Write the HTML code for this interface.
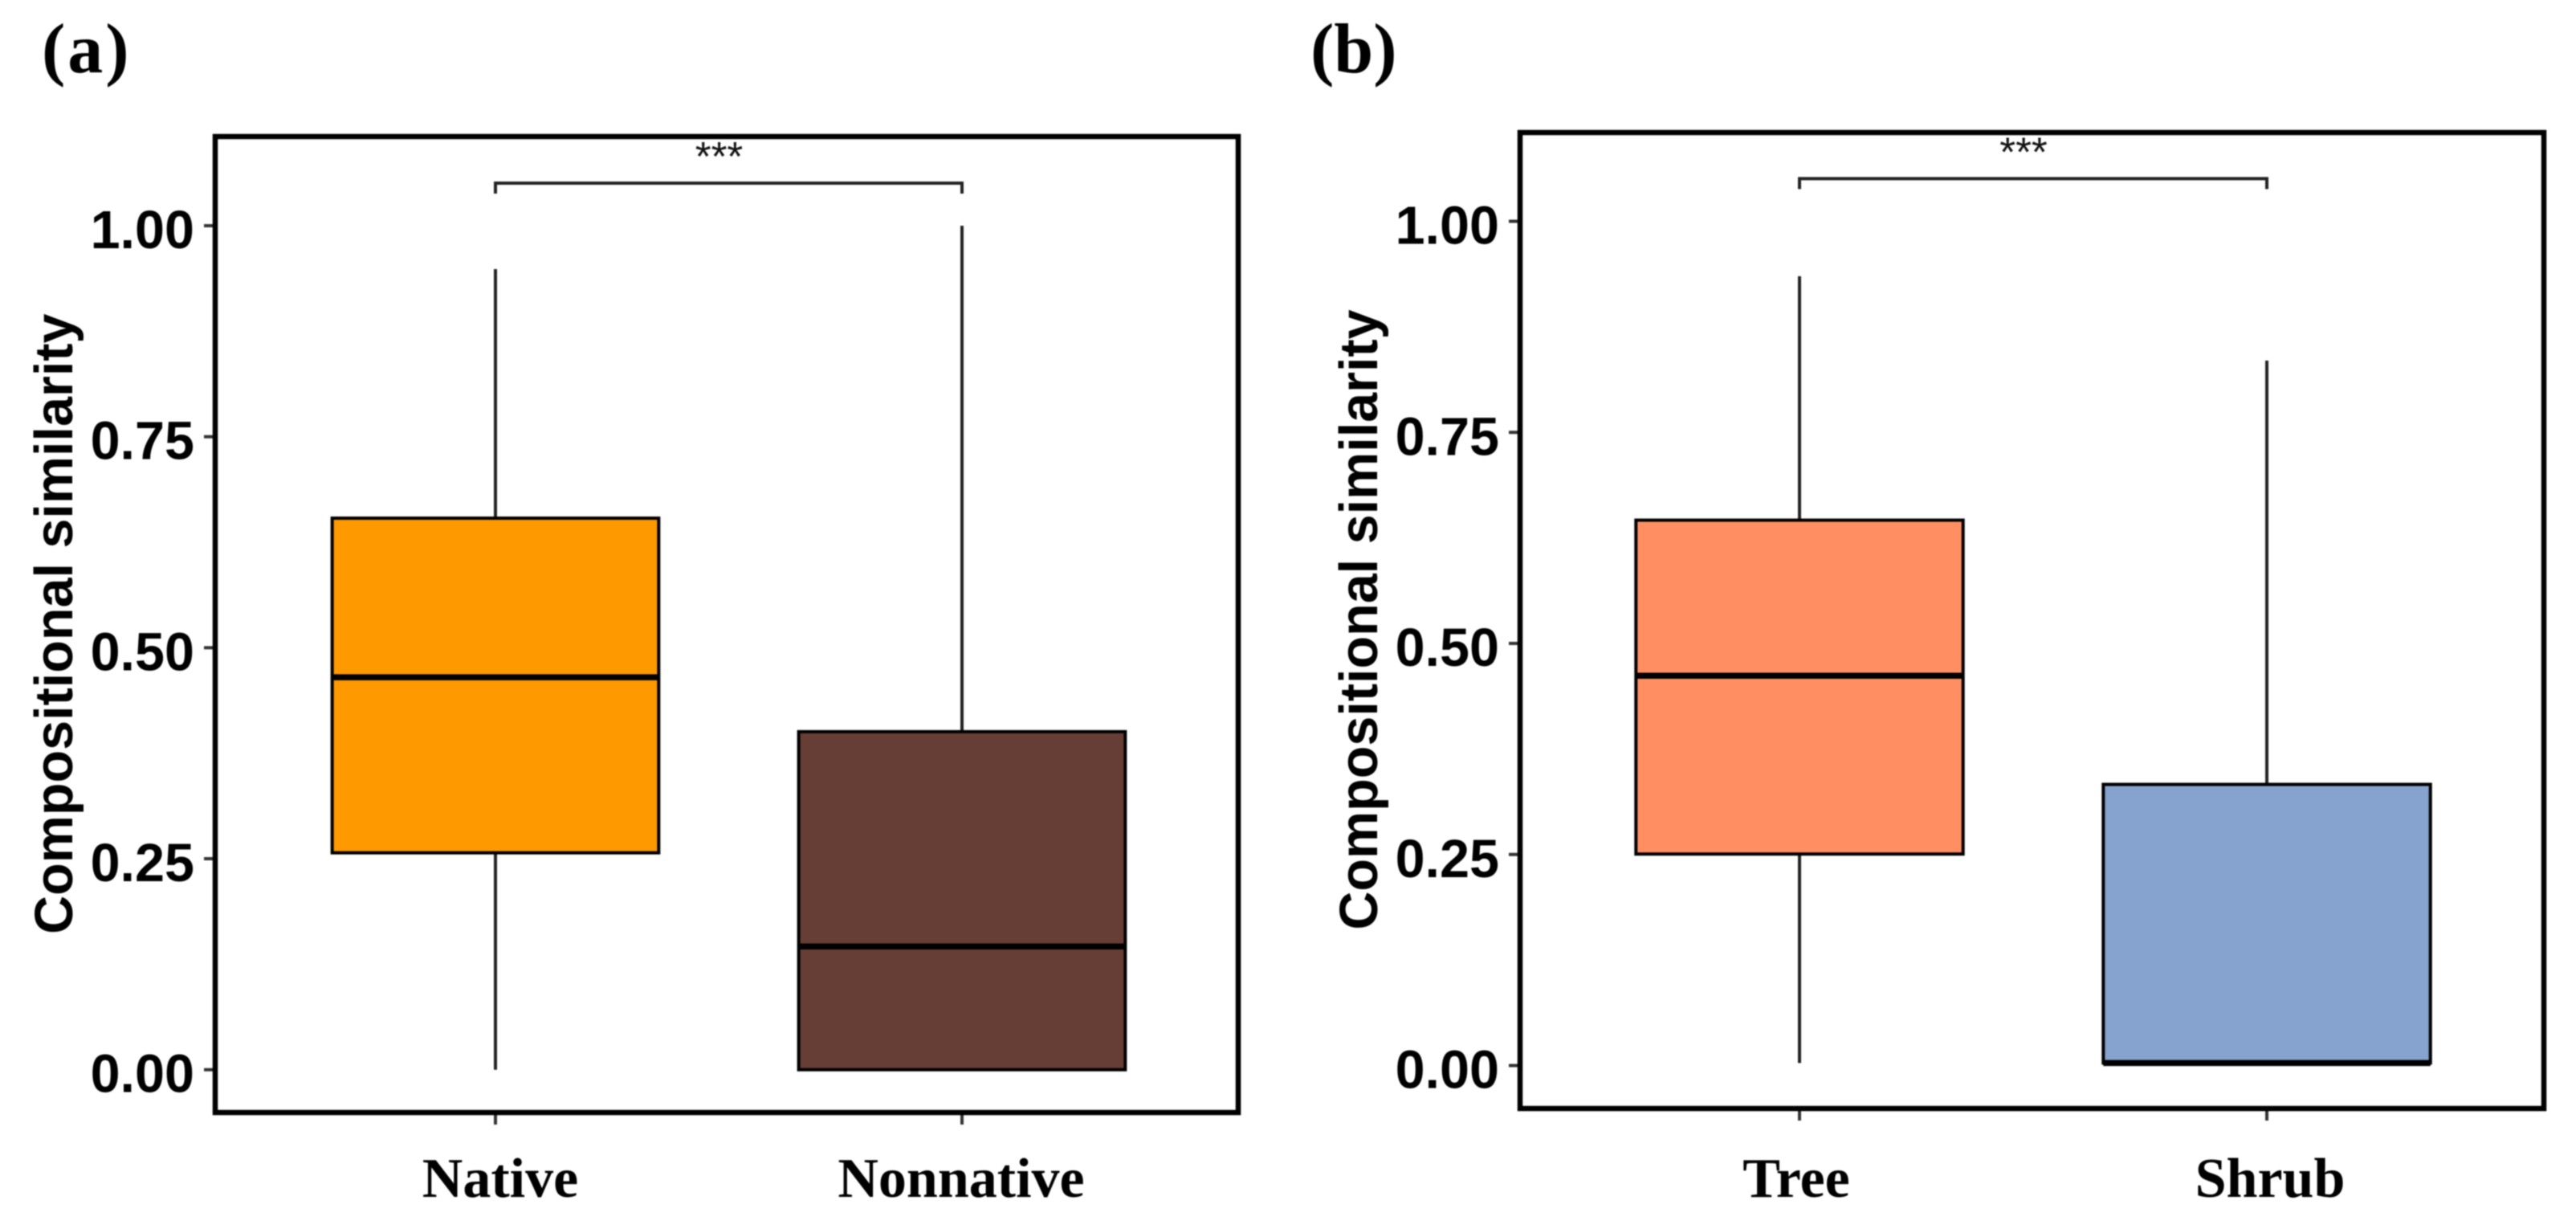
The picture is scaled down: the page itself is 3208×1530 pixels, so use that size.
<!DOCTYPE html>
<html lang="en">
<head>
<meta charset="utf-8">
<title>Compositional similarity boxplots</title>
<style>
  html, body { margin: 0; padding: 0; background: #fff; }
  body { width: 3208px; height: 1530px; overflow: hidden; }
  svg { display: block; filter: blur(0.7px); }
  .tick-label { font: bold 66.5px "Liberation Sans", sans-serif; fill: #000; text-anchor: end; }
  .axis-title { font: bold 66.5px "Liberation Sans", sans-serif; fill: #000; text-anchor: middle; }
  .cat-label { font: bold 70px "Liberation Serif", serif; fill: #000; text-anchor: middle; }
  .panel-tag { font: bold 88px "Liberation Serif", serif; fill: #000; }
  .stars { font: 51px "Liberation Sans", sans-serif; fill: #111; text-anchor: middle; }
</style>
</head>
<body>
<svg id="chart" xmlns="http://www.w3.org/2000/svg" width="3208" height="1530" viewBox="0 0 3208 1530">
  <rect x="0" y="0" width="3208" height="1530" fill="#ffffff"></rect>
</svg>
<script>
// Shared axis data
const tickValues = [0, 0.25, 0.5, 0.75, 1];
const tickLabels = ["0.00", "0.25", "0.50", "0.75", "1.00"];
const axisTitle = "Compositional similarity";

// Panel (a) data
const categoriesA = ["Native", "Nonnative"];
const whiskerLowA = [0.0, 0.0];
const q1A = [0.257, 0.0];
const medianA = [0.465, 0.146];
const q3A = [0.6535, 0.4005];
const whiskerHighA = [0.9486, 1.0];
const bracketA = [1.0505];

// Panel (b) data
const categoriesB = ["Tree", "Shrub"];
const whiskerLowB = [0.003, 0.003];
const q1B = [0.2505, 0.003];
const medianB = [0.4617, 0.003];
const q3B = [0.646, 0.333];
const whiskerHighB = [0.935, 0.835];
const bracketB = [1.0505];

const svg = document.getElementById('chart');
const NS = 'http://www.w3.org/2000/svg';

function make(tag, attrs, text) {
  const node = document.createElementNS(NS, tag);
  for (const k in attrs) node.setAttribute(k, attrs[k]);
  if (text !== undefined) node.textContent = text;
  svg.appendChild(node);
  return node;
}

function drawPanel(p) {
  const yScale = v => p.y0 + (p.y1 - p.y0) * v;
  const xScale = i => p.x0 + p.step * i;
  let el;

  el = make('text', { x: p.tagX, y: 90, class: 'panel-tag', 'letter-spacing': p.tagSpacing }, p.tag);
  
  

  // y ticks and labels
  tickValues.forEach((v, i) => {
    let t = make('line', { x1: p.left - 14, x2: p.left, y1: yScale(v), y2: yScale(v), stroke: '#333', 'stroke-width': 4 });
    
    
    let l = make('text', { x: p.left - 26, y: yScale(v) + 28, class: 'tick-label' }, tickLabels[i]);
    
    
  });

  // y title
  el = make('text', { class: 'axis-title', transform: 'translate(' + (p.left - 178) + ',' + (p.y0 - 555) + ') rotate(-90)' }, axisTitle);
  
  

  // boxes
  p.categories.forEach((c, i) => {
    const cx = xScale(i);
    const half = p.boxWidth * p.step / 2;

    let w = make('line', { x1: cx, x2: cx, y1: yScale(p.high[i]), y2: yScale(p.q3[i]), stroke: '#222', 'stroke-width': 4 });
    
    

    let w2 = make('line', { x1: cx, x2: cx, y1: yScale(p.q1[i]), y2: yScale(p.low[i]), stroke: '#222', 'stroke-width': 4 });
    
    

    let b = make('rect', { x: cx - half, y: yScale(p.q3[i]), width: half * 2, height: yScale(p.q1[i]) - yScale(p.q3[i]), fill: p.fills[i], stroke: '#000', 'stroke-width': 4 });
    
    

    let m = make('line', { x1: cx - half, x2: cx + half, y1: yScale(p.median[i]), y2: yScale(p.median[i]), stroke: '#000', 'stroke-width': 7.5 });
    
    

    let xt = make('line', { x1: cx, x2: cx, y1: p.bottom, y2: p.bottom + 15, stroke: '#333', 'stroke-width': 4 });
    
    

    let xl = make('text', { x: cx + p.labelShift[i], y: 1490, class: 'cat-label' }, c);
    
    
  });

  // significance bracket
  const by = yScale(p.bracket[0]);
  el = make('path', { d: 'M' + xScale(0) + ' ' + (by + 13) + 'V' + by + 'H' + xScale(1) + 'V' + (by + 13), fill: 'none', stroke: '#222', 'stroke-width': 4 });
  
  

  el = make('text', { x: (xScale(0) + xScale(1)) / 2 - 12, y: by - 16, class: 'stars' }, '***');
  
  

  // frame
  el = make('rect', { x: p.left, y: p.top, width: p.right - p.left, height: p.bottom - p.top, fill: 'none', stroke: '#000', 'stroke-width': 6.5 });
  
  
}

drawPanel({
  tag: '(a)', tagX: 52, tagSpacing: 3,
  left: 268, right: 1542, top: 170, bottom: 1385,
  y0: 1331.7, y1: 281, x0: 617, step: 581, boxWidth: 0.7,
  categories: categoriesA, low: whiskerLowA, q1: q1A, median: medianA, q3: q3A, high: whiskerHighA,
  bracket: bracketA,
  fills: ['#FE9900', '#673E36'],
  labelShift: [6, -1]
});

drawPanel({
  tag: '(b)', tagX: 1632, tagSpacing: 0,
  left: 1893, right: 3168, top: 165, bottom: 1380,
  y0: 1326.5, y1: 275.5, x0: 2241, step: 582, boxWidth: 0.7,
  categories: categoriesB, low: whiskerLowB, q1: q1B, median: medianB, q3: q3B, high: whiskerHighB,
  bracket: bracketB,
  fills: ['#FF8F63', '#86A3D0'],
  labelShift: [-4, 4]
});
</script>
</body>
</html>
